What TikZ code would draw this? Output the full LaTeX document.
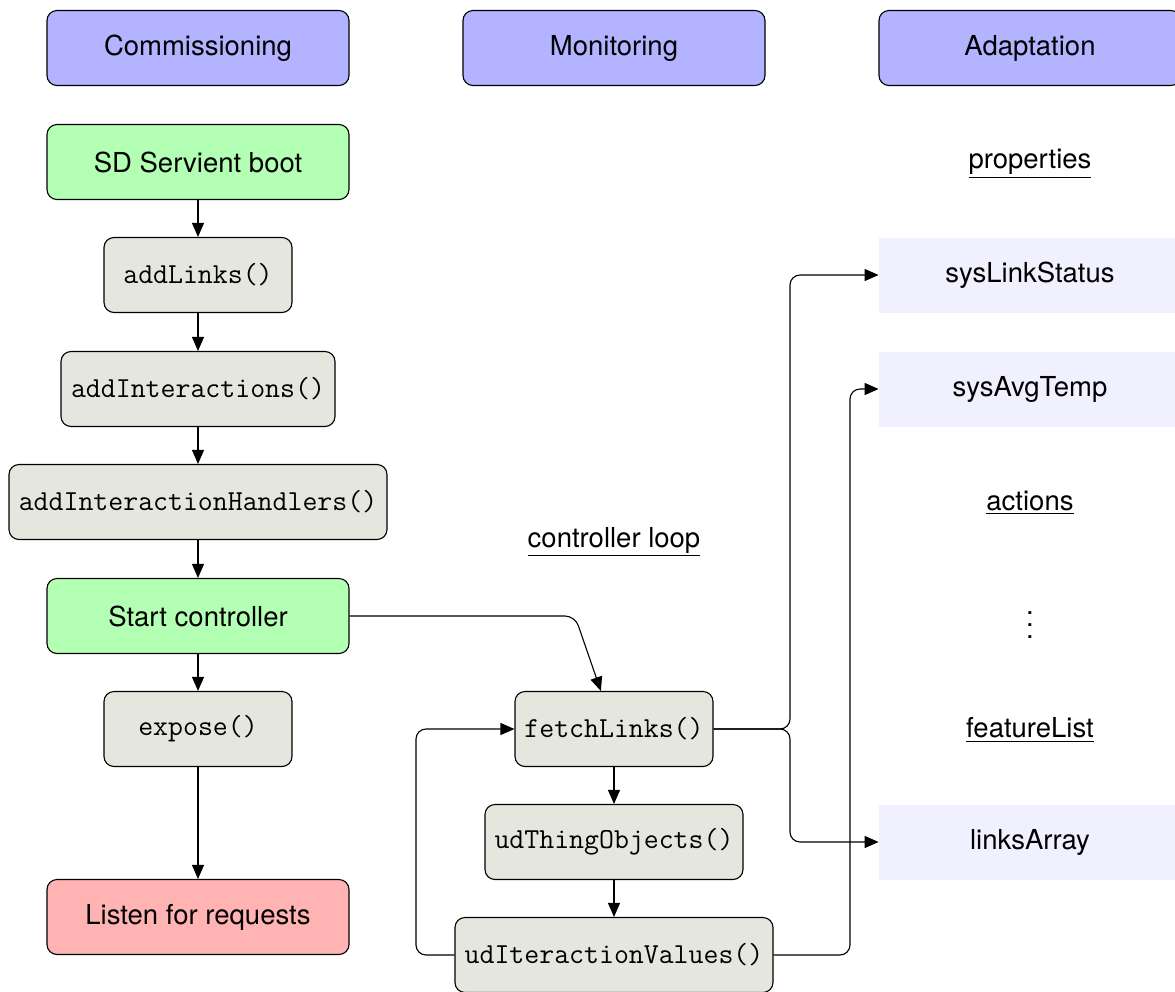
\documentclass[tikz,border=0pt]{standalone}
\usepackage{fontspec}
\setmainfont{TeX Gyre Heros}
\usetikzlibrary{arrows.meta}
\definecolor{hdr}{RGB}{179,179,255}
\definecolor{grn}{RGB}{179,255,179}
\definecolor{rd}{RGB}{255,179,179}
\definecolor{gry}{RGB}{229,231,222}
\definecolor{lbl}{RGB}{240,240,255}
\newcommand{\myvdots}{\vbox{\baselineskip=6pt\lineskiplimit=0pt\hbox{.}\hbox{.}\hbox{.}}}
\tikzset{
  base/.style={draw=black, line width=0.55pt, rounded corners=5pt, minimum height=37.5pt, inner sep=0pt, font=\fontsize{13.75}{16}\selectfont},
  hdrbox/.style={base, fill=hdr, minimum width=151pt},
  grnbox/.style={base, fill=grn, minimum width=151pt},
  redbox/.style={base, fill=rd, minimum width=151pt},
  fnbox/.style={base, fill=gry, font=\fontsize{14.5}{16}\selectfont\ttfamily},
  varbox/.style={fill=lbl, minimum width=151pt, minimum height=37.5pt, inner sep=0pt, font=\fontsize{13.75}{16}\selectfont},
  ulabel/.style={font=\fontsize{13.75}{16}\selectfont, inner sep=0pt},
  conn/.style={line width=0.55pt, -{Triangle[length=7pt,width=6pt]}, rounded corners=5pt},
}
\begin{document}
\begin{tikzpicture}[x=0.5pt,y=-0.5pt]
\useasboundingbox (0,0) rectangle (1175,992);
\clip (0,0) rectangle (1175,992);
% headers
\node[hdrbox] (hc) at (198,48) {Commissioning};
\node[hdrbox] (hm) at (614,48) {Monitoring};
\node[hdrbox] (ha) at (1030,48) {Adaptation};
% commissioning column
\node[grnbox] (boot) at (198,162) {SD Servient boot};
\node[fnbox, minimum width=94pt] (links) at (198,275) {addLinks()};
\node[fnbox, minimum width=137pt] (inter) at (198,389) {addInteractions()};
\node[fnbox, minimum width=189pt] (handlers) at (198,502) {addInteractionHandlers()};
\node[grnbox] (start) at (198,616) {Start controller};
\node[fnbox, minimum width=94pt] (expose) at (198,729) {expose()};
\node[redbox] (listen) at (198,917) {Listen for requests};
% monitoring column
\node[ulabel] (loop) at (614,542) {\underline{controller loop}};
\node[fnbox, minimum width=99pt] (fetch) at (614,729) {fetchLinks()};
\node[fnbox, minimum width=129pt] (thing) at (614,842) {udThingObjects()};
\node[fnbox, minimum width=159pt] (values) at (614,955) {udIteractionValues()};
% adaptation column
\node[ulabel] (props) at (1030,164) {\underline{properties}};
\node[varbox] (status) at (1030,275) {sysLinkStatus};
\node[varbox] (temp) at (1030,389) {sysAvgTemp};
\node[ulabel] (actions) at (1030,503) {\underline{actions}};
\node[ulabel] (dots) at (1030,625) {\myvdots};
\node[ulabel] (feat) at (1030,730) {\underline{featureList}};
\node[varbox] (larr) at (1030,842) {linksArray};
% coordinates
\coordinate (c1) at (575,616);
\coordinate (j1) at (790,729);
\coordinate (l1) at (416,955);
\coordinate (l2) at (416,729);
\coordinate (r1) at (850,955);
\coordinate (r2) at (850,389);
% connectors
\draw[conn] (boot) -- (links);
\draw[conn] (links) -- (inter);
\draw[conn] (inter) -- (handlers);
\draw[conn] (handlers) -- (start);
\draw[conn] (start) -- (expose);
\draw[conn] (expose) -- (listen);
\draw[conn] (start.east) -- (c1) -- (fetch);
\draw[conn] (fetch) -- (thing);
\draw[conn] (thing) -- (values);
\draw[conn] (fetch.east) -- (j1) |- (status.west);
\draw[conn] (fetch.east) -- (j1) |- (larr.west);
\draw[conn] (values.west) -- (l1) -- (l2) -- (fetch.west);
\draw[conn] (values.east) -- (r1) -- (r2) -- (temp.west);
\end{tikzpicture}
\end{document}
